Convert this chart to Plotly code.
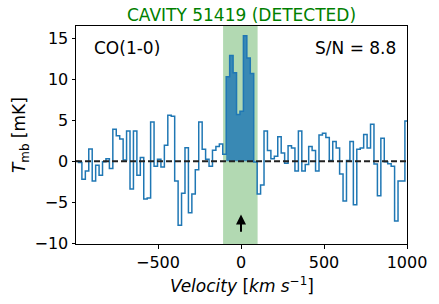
import numpy as np
import plotly.graph_objects as go

# ---- data ----
VEL_START = -989.5   # centre of first channel [km/s]
CHAN_WIDTH = 20.7    # channel width [km/s]
T_MB = [0.0, -0.15, -2.2, -1.2, 1.5, -2.4, -0.5, -1.7, -0.05, 0.3,
        -0.9, 3.9, 3.1, 2.7, 0.15, 3.7, -3.4, 3.7, -1.7, 0.45,
        -4.6, -4.5, 4.8, -0.6, 0.25, -0.7, 1.95, 5.6, 5.5, -2.4,
        -7.8, -3.9, 1.65, -6.3, -4.0, -1.05, 4.8, 1.45, 0.25, -0.6,
        1.35, 1.8, 2.1, 0.85, 10.3, 12.9, 10.8, 5.7, 6.1, 15.3,
        12.6, 10.7, -0.1, -4.0, -2.9, 3.7, 1.3, 0.3, 0.6, 3.0,
        1.0, -0.25, 1.9, 1.6, -1.2, 3.7, -1.2, -0.4, 1.8, 1.3,
        -1.2, 3.2, 3.4, 2.9, 0.1, 2.4, 1.6, -1.55, -4.85, 0.1,
        2.4, -5.3, 1.45, 1.6, 3.25, 1.6, 4.5, -0.35, -4.2, 2.8,
        -0.05, -0.3, -0.6, -7.3, -2.4, -2.4, 4.9]
LINE_WINDOW = [-108, 100]      # shaded velocity window
FILL_WINDOW = [-90, 80]        # channels counted as detected emission
ARROW_Y = [-8.8, -6.5]
X_TICKS = [-500, 0, 500, 1000]
Y_TICKS = [-10, -5, 0, 5, 10, 15]
X_RANGE = [-994, 1000]
Y_RANGE = [-10.1, 16.5]
TITLE = "CAVITY 51419 (DETECTED)"
LINE_LABEL = "CO(1-0)"
SNR_LABEL = "S/N = 8.8"

T = np.array(T_MB)
vel = VEL_START + CHAN_WIDTH * np.arange(len(T))
edges = np.append(vel - CHAN_WIDTH / 2, vel[-1] + CHAN_WIDTH / 2)
y_steps = np.append(T, T[-1])

mask = (vel > FILL_WINDOW[0]) & (vel < FILL_WINDOW[1])
idx = np.where(mask)[0]
f_edges = np.append(vel[idx] - CHAN_WIDTH / 2, vel[idx[-1]] + CHAN_WIDTH / 2)
f_y = np.append(T[idx], T[idx[-1]])

FONT = "DejaVu Sans"
fig = go.Figure()
fig.add_trace(go.Scatter(x=f_edges, y=f_y, mode="lines", line_shape="hv",
                         line=dict(width=0, color="rgba(0,0,0,0)"),
                         fill="tozeroy", fillcolor="rgba(31,119,180,0.82)",
                         hoverinfo="skip", showlegend=False))
fig.add_trace(go.Scatter(x=edges, y=y_steps, mode="lines", line_shape="hv",
                         line=dict(width=1.5, color="#1f77b4"),
                         showlegend=False))

fig.add_shape(type="rect", xref="x", yref="paper", x0=LINE_WINDOW[0], x1=LINE_WINDOW[1],
              y0=0, y1=1, fillcolor="rgba(0,128,0,0.3)", line_width=0, layer="below")
fig.add_shape(type="line", xref="paper", yref="y", x0=0, x1=1, y0=0, y1=0,
              line=dict(color="#222222", width=1.8, dash="6px,3px"), layer="above")

fig.add_annotation(x=0, y=ARROW_Y[1], ax=0, ay=ARROW_Y[0], xref="x", yref="y",
                   axref="x", ayref="y", showarrow=True, arrowhead=2, arrowsize=1,
                   arrowwidth=2, arrowcolor="black", text="")

fig.add_annotation(text=TITLE, xref="paper", yref="paper", x=0.5, y=(244 - 14.5) / 218,
                   xanchor="center", yanchor="middle", showarrow=False,
                   font=dict(family=FONT, size=17, color="#008000"))
fig.add_annotation(text=LINE_LABEL, xref="paper", yref="paper", x=0.048, y=0.899,
                   xanchor="left", yanchor="middle", showarrow=False,
                   font=dict(family=FONT, size=17, color="black"))
fig.add_annotation(text=SNR_LABEL, xref="paper", yref="paper", x=0.972, y=0.899,
                   xanchor="right", yanchor="middle", showarrow=False,
                   font=dict(family=FONT, size=17, color="black"))
fig.add_annotation(text="<i>Velocity</i> [<i>km s</i><sup>−1</sup>]", xref="paper", yref="paper",
                   x=0.5, y=-0.188, xanchor="center", yanchor="middle", showarrow=False,
                   font=dict(family=FONT, size=17, color="black"))
fig.add_annotation(text="<i>T</i><sub>mb</sub> [mK]", xref="paper", yref="paper",
                   x=-0.169, y=0.5, xanchor="center", yanchor="middle", textangle=-90,
                   showarrow=False, font=dict(family=FONT, size=17, color="black"))

axis_common = dict(showline=True, mirror=True, linecolor="black", linewidth=1,
                   ticks="outside", ticklen=3.5, tickwidth=1, tickcolor="black",
                   showgrid=False, zeroline=False,
                   tickfont=dict(family=FONT, size=16, color="black"))
fig.update_xaxes(range=X_RANGE, tickvals=X_TICKS, **axis_common)
fig.update_yaxes(range=Y_RANGE, tickvals=Y_TICKS, **axis_common)

fig.update_layout(width=439, height=304, margin=dict(l=76, r=29, t=26, b=60),
                  plot_bgcolor="white", paper_bgcolor="white", showlegend=False,
                  font=dict(family=FONT))
fig.write_html("out.html", config={"displayModeBar": False},
               post_script="document.body.style.margin='0';")
